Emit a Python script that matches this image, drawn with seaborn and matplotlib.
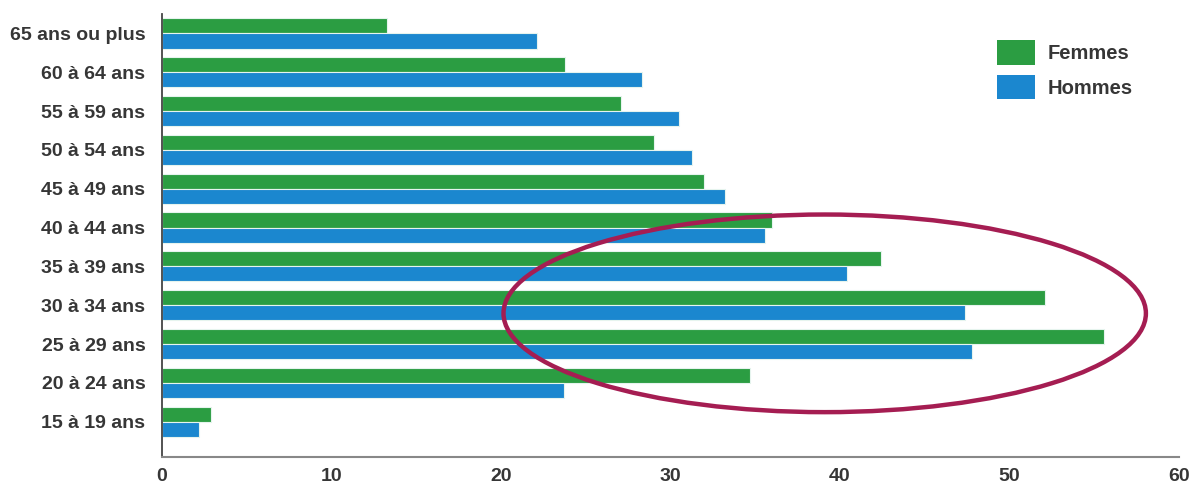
import matplotlib
matplotlib.use("Agg")
import matplotlib.pyplot as plt
from matplotlib.patches import Ellipse, Patch
import numpy as np
import pandas as pd
import seaborn as sns

# Age groups, top to bottom
ages = ["65 ans ou plus", "60 à 64 ans", "55 à 59 ans", "50 à 54 ans",
        "45 à 49 ans", "40 à 44 ans", "35 à 39 ans", "30 à 34 ans",
        "25 à 29 ans", "20 à 24 ans", "15 à 19 ans"]
femmes = [13.3, 23.8, 27.1, 29.0, 32.0, 36.0, 42.4, 52.1, 55.6, 34.7, 2.9]
hommes = [22.1, 28.3, 30.5, 31.3, 33.2, 35.6, 40.4, 47.4, 47.8, 23.7, 2.2]
series = ["Femmes", "Hommes"]
xticks = [0, 10, 20, 30, 40, 50, 60]

GREEN = "#2b9d42"
BLUE = "#1b87cf"
RING = "#a51d52"
TEXT = "#363636"

df = pd.DataFrame({
    "age": ages * 2,
    "valeur": femmes + hommes,
    "sexe": [series[0]] * len(ages) + [series[1]] * len(ages),
})

sns.set_theme(style="white")
plt.rcParams["font.family"] = ["Liberation Sans", "DejaVu Sans"]

fig = plt.figure(figsize=(11.98, 4.84), dpi=100)
ax = fig.add_axes([0.1352, 0.0558, 0.8489, 0.9153])

sns.barplot(data=df, y="age", x="valeur", hue="sexe", order=ages,
            hue_order=series, palette=[GREEN, BLUE], orient="h",
            width=0.78, saturation=1, edgecolor="#e6f4ee", linewidth=0.8,
            legend=False, ax=ax)

ax.set_xlim(0, 60)
ax.set_ylim(10.91, -0.5)
ax.set_xlabel("")
ax.set_ylabel("")

# x axis: ticks pointing into the plot
ax.set_xticks(xticks)
ax.set_xticklabels([str(t) for t in xticks], fontsize=14, color=TEXT,
                   fontweight="bold")
ax.tick_params(axis="x", direction="in", length=8, width=1.2,
               color="#777777", pad=8)

# y axis: labels at group centres, tick marks at group boundaries
ax.set_yticks(np.arange(len(ages)))
ax.set_yticklabels(ages, fontsize=14, color=TEXT, fontweight="bold")
ax.tick_params(axis="y", which="major", length=0, pad=12)
ax.set_yticks(np.arange(len(ages) + 1) - 0.5, minor=True)
ax.tick_params(axis="y", which="minor", direction="out", length=10,
               width=1.2, color="#444444")

for side in ("top", "right"):
    ax.spines[side].set_visible(False)
ax.spines["left"].set_color("#444444")
ax.spines["left"].set_linewidth(1.3)
ax.spines["bottom"].set_color("#888888")
ax.spines["bottom"].set_linewidth(1.5)

# highlight ring around the 20-39 age groups
ring = Ellipse((39.1, 7.21), width=37.9, height=5.09, fill=False,
               edgecolor=RING, linewidth=3.2, zorder=5, clip_on=False)
ax.add_patch(ring)

handles = [Patch(facecolor=GREEN, edgecolor="none", label=series[0]),
           Patch(facecolor=BLUE, edgecolor="none", label=series[1])]
ax.legend(handles=handles, loc="upper left", bbox_to_anchor=(0.821, 0.941),
          frameon=False, borderpad=0, borderaxespad=0,
          handlelength=1.9, handleheight=1.5, labelspacing=0.5,
          handletextpad=0.6, labelcolor=TEXT,
          prop={"weight": "bold", "size": 14.5})

fig.savefig("out.png", dpi=100)
